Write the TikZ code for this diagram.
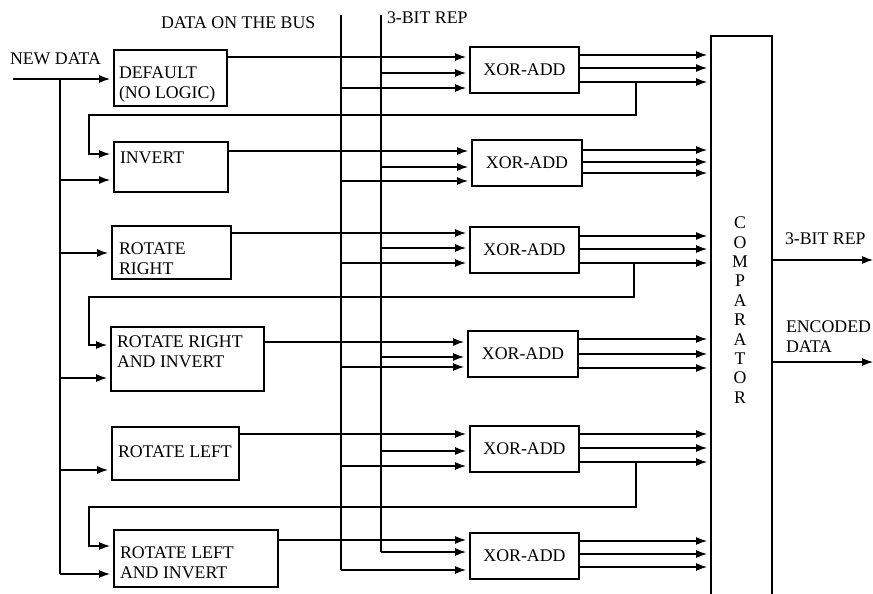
\documentclass[tikz,border=0pt]{standalone}
\usepackage{fontspec}
\setmainfont{Liberation Serif}
\usetikzlibrary{arrows.meta}

\begin{document}
\begin{tikzpicture}[x=1pt,y=-1pt,line width=1.2pt,>={Latex[length=11pt,width=8pt]},
    font=\fontsize{17.8}{20}\selectfont,
    every node/.style={inner sep=0pt,outer sep=0pt},
    blk/.style={draw,anchor=north west},
    txt/.style={anchor=north west,align=left},
    xorbox/.style={draw,anchor=north west,minimum width=109pt,minimum height=46pt},
    sig/.style={->,shorten >=4pt}]
    \useasboundingbox (0,0) rectangle (873,594);
    % labels at the top
    \node[txt] (newtxt) at (10,53) {NEW DATA};
    \node[txt] (bustxt) at (161,17) {DATA ON THE BUS};
    \node[txt] (reptxt) at (387,12) {3-BIT REP};
    % encoding blocks
    \node[blk,minimum width=113pt,minimum height=56pt] (def) at (114,50) {};
    \node[txt] (deftxt) at (119,67) {DEFAULT\\(NO LOGIC)};
    \node[blk,minimum width=114pt,minimum height=50pt] (inv) at (114,142) {};
    \node[txt] (invtxt) at (120,152) {INVERT};
    \node[blk,minimum width=119pt,minimum height=53pt] (rr) at (112,226) {};
    \node[txt] (rrtxt) at (119,243) {ROTATE\\RIGHT};
    \node[blk,minimum width=153pt,minimum height=64pt] (rri) at (111,327) {};
    \node[txt] (rritxt) at (117,336) {ROTATE RIGHT\\AND INVERT};
    \node[blk,minimum width=127pt,minimum height=53pt] (rl) at (112,427) {};
    \node[txt] (rltxt) at (118,446) {ROTATE LEFT};
    \node[blk,minimum width=164pt,minimum height=57pt] (rli) at (114,530) {};
    \node[txt] (rlitxt) at (120,547) {ROTATE LEFT\\AND INVERT};
    % xor-add blocks
    \node[xorbox] (x1) at (470,47) {XOR-ADD};
    \node[xorbox,minimum width=110pt] (x2) at (472,140) {XOR-ADD};
    \node[xorbox] (x3) at (470,227) {XOR-ADD};
    \node[xorbox,minimum width=110pt] (x4) at (468,331) {XOR-ADD};
    \node[xorbox] (x5) at (470,426) {XOR-ADD};
    \node[xorbox] (x6) at (470,533) {XOR-ADD};
    % comparator, open at the bottom edge
    \node[minimum width=61pt,minimum height=558pt,anchor=north west] (cmp) at (711,36) {};
    \draw (cmp.south west) -- (cmp.north west) -- (cmp.north east) -- (cmp.south east);
    \node[anchor=north,align=center,font=\fontsize{17.8}{19.4}\selectfont] (cmptxt) at (740,217) {C\\O\\M\\P\\A\\R\\A\\T\\O\\R};
    % new data fan-out
    \coordinate (nd) at (13,79);
    \coordinate (sp) at (60,79);
    \draw[sig] (nd) -- (def.west |- nd);
    \draw (sp) -- (60,574);
    \foreach \b/\y in {inv/180,rr/253,rri/378,rl/470,rli/574}
      \draw[sig] (sp |- 0,\y) -- (\b.west |- 0,\y);
    % bus and 3-bit rep lines
    \coordinate (bus) at (341,15);
    \coordinate (rep) at (381,15);
    \draw (bus) -- (bus |- 0,570);
    \draw (rep) -- (rep |- 0,552);
    \foreach \s/\x/\ya/\yb/\yc in {def/x1/57/73/88,inv/x2/151/167/181,rr/x3/233/248/263,rri/x4/342/357/367,rl/x5/434/451/466,rli/x6/540/552/570}{
      \draw[sig] (\s.east |- 0,\ya) -- (\x.west |- 0,\ya);
      \draw[sig] (rep |- 0,\yb) -- (\x.west |- 0,\yb);
      \draw[sig] (bus |- 0,\yc) -- (\x.west |- 0,\yc);
    }
    % xor-add outputs into the comparator
    \foreach \x/\ya/\yb/\yc in {x1/55/68/82,x2/150/162/173,x3/236/249/263,x4/339/354/368,x5/434/448/462,x6/541/554/567}{
      \draw[sig] (\x.east |- 0,\ya) -- (cmp.west |- 0,\ya);
      \draw[sig] (\x.east |- 0,\yb) -- (cmp.west |- 0,\yb);
      \draw[sig] (\x.east |- 0,\yc) -- (cmp.west |- 0,\yc);
    }
    % feedback loops
    \foreach \xx/\yo/\yh/\b/\yi in {636/82/115/inv/154,634/263/297/rri/345,636/462/507/rli/546}
      \draw[sig] (\xx,\yo) |- (89,\yh) |- (\b.west |- 0,\yi);
    % comparator outputs
    \coordinate (o1) at (873,260);
    \coordinate (o2) at (873,362);
    \draw[->] (cmp.east |- o1) -- (o1);
    \draw[->] (cmp.east |- o2) -- (o2);
    \node[txt] (o1txt) at (785,233) {3-BIT REP};
    \node[txt] (o2txt) at (786,321) {ENCODED\\DATA};
  \end{tikzpicture}
\end{document}
